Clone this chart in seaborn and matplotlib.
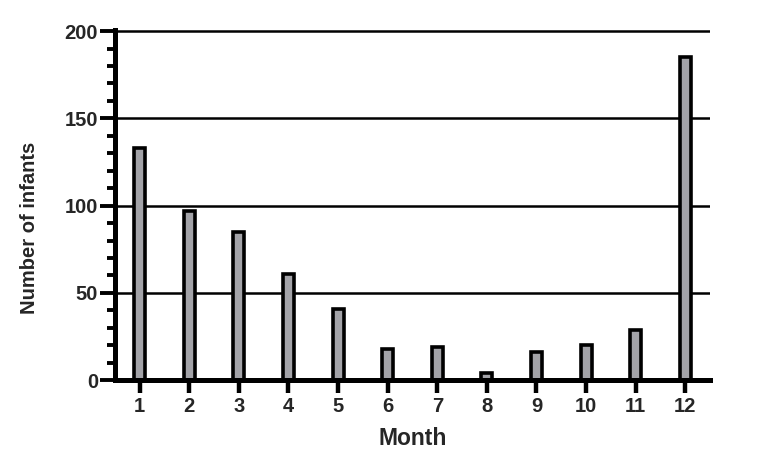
import numpy as np
import pandas as pd
import matplotlib
matplotlib.use("Agg")
import matplotlib.pyplot as plt
import seaborn as sns
from matplotlib.ticker import MultipleLocator

# data
months = ["1", "2", "3", "4", "5", "6", "7", "8", "9", "10", "11", "12"]
infants = [133, 97, 85, 61, 41, 18, 19, 4, 16, 20, 29, 185]

df = pd.DataFrame({"Month": months, "Infants": infants})

sns.set_style("white")
plt.rcParams["font.family"] = ["Liberation Sans", "DejaVu Sans"]
plt.rcParams["font.weight"] = "bold"

fig = plt.figure(figsize=(7.71, 4.70), dpi=100)
ax = fig.add_axes([0.149, 0.191, 0.772, 0.745])

sns.barplot(data=df, x="Month", y="Infants", order=months, color="#a3a3a8",
            saturation=1, width=0.22, edgecolor="black", linewidth=2.6, ax=ax)

ax.set_ylim(0, 200.6)
ax.set_xlim(-0.5, 11.5)
ax.yaxis.set_major_locator(MultipleLocator(50))
ax.yaxis.set_minor_locator(MultipleLocator(10))
ax.grid(axis="y", which="major", color="black", linewidth=1.8)
ax.set_axisbelow(True)

for s in ["top", "right"]:
    ax.spines[s].set_visible(False)
for s in ["left", "bottom"]:
    ax.spines[s].set_linewidth(3.6)
    ax.spines[s].set_color("black")

ax.tick_params(axis="y", which="major", direction="out", length=11, width=2.8,
               labelsize=14.5, pad=1, left=True, color="black")
ax.tick_params(axis="y", which="minor", direction="out", length=5.5, width=2.8,
               left=True, color="black")
ax.tick_params(axis="x", direction="out", length=9, width=3.2, labelsize=14.5,
               pad=3, bottom=True, color="black")
for lbl in ax.get_xticklabels() + ax.get_yticklabels():
    lbl.set_fontweight("bold")

ax.set_xlabel("Month", fontsize=16.5, fontweight="bold", labelpad=8)
ax.set_ylabel("Number of infants", fontsize=14.5, fontweight="bold")
ax.yaxis.set_label_coords(-0.128, 0.434)

fig.savefig("out.png", dpi=100)
